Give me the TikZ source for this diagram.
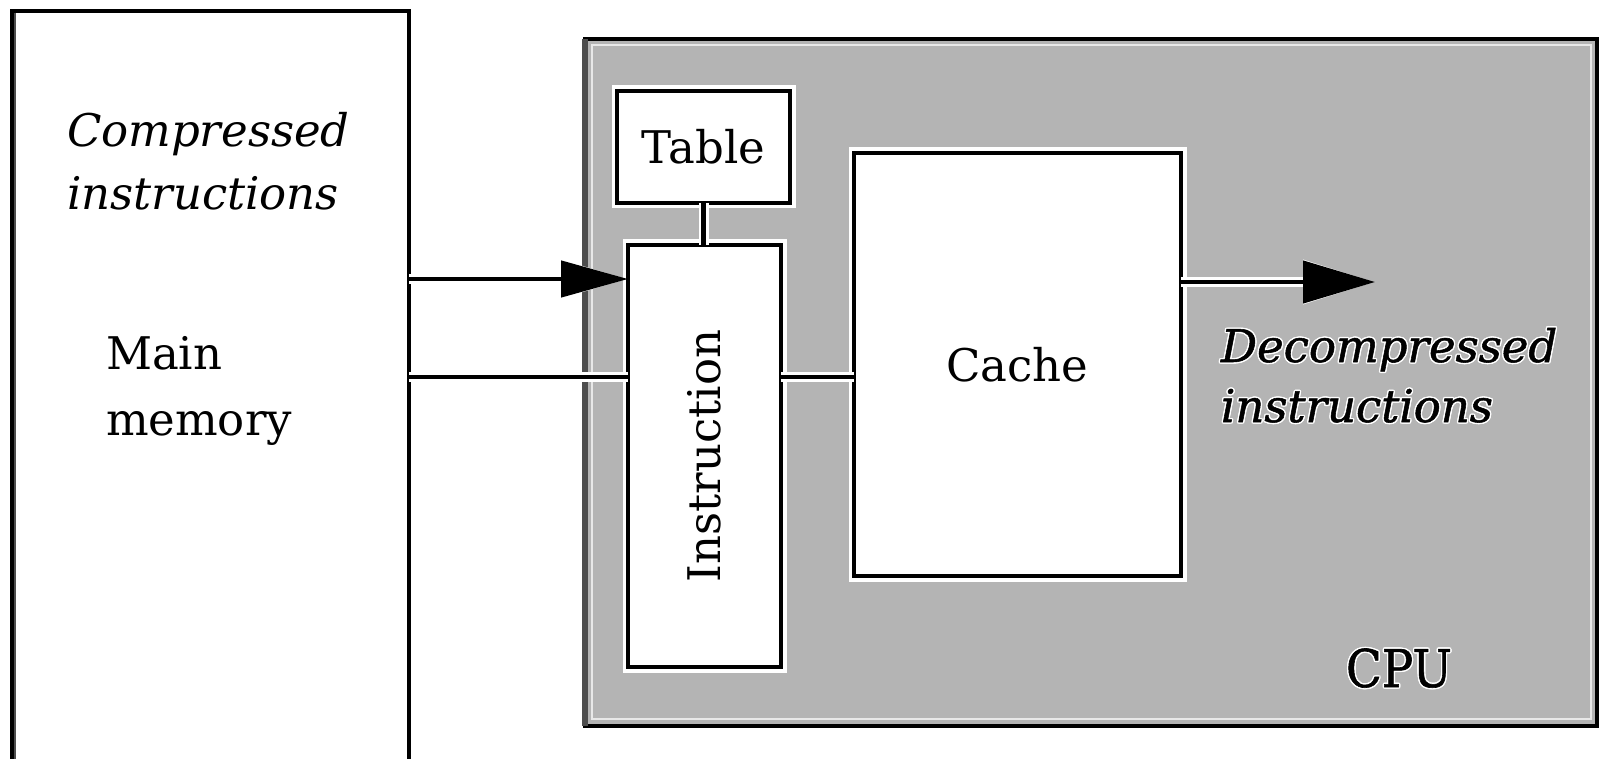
\documentclass[tikz,border=0pt]{standalone}
\usepackage{fontspec}
\setmainfont{DejaVu Serif}
\newfontfamily\heavyital{DejaVu Serif Italic}[FakeBold=1.2]
\newfontfamily\heavyserif{DejaVu Serif}[FakeBold=1.2]
\usetikzlibrary{arrows.meta}
\definecolor{cpugray}{HTML}{B4B4B4}
\definecolor{bevel}{HTML}{4D4D4D}
\definecolor{shine}{HTML}{E8E8E8}

\begin{document}
\begin{tikzpicture}[x=0.5pt,y=-0.5pt,
  every node/.style={inner sep=0pt, outer sep=0pt},
  txt/.style={font=\fontsize{22.5}{30}\selectfont},
  itxt/.style={font=\fontsize{22.5}{30}\selectfont\itshape},
  etxt/.style={font=\fontsize{22.5}{30}\selectfont\heavyital},
  ctxt/.style={font=\fontsize{26}{30}\selectfont\heavyserif},
  unit/.style={draw=black, fill=white, line width=2.4pt,
    preaction={draw=white, line width=5.5pt}, txt},
  wire/.style={line width=2.3pt, preaction={draw=white, line width=5pt}},
  halo/.style={text=white},
]
\clip (0,0) rectangle (1599,759);
\fill[white] (0,0) rectangle (1599,759);

% main memory (runs past the lower edge)
\node[draw=black, line width=2.4pt, minimum width=198.5pt, minimum height=394.5pt]
  (mem) at (210.5,405.5) {};
\draw[bevel, line width=0.7pt] (15,13) -- (15,759);

% CPU block with bevelled edge
\node[draw=black, fill=cpugray, line width=2.4pt, minimum width=506pt, minimum height=343.5pt]
  (cpu) at (1091,382.5) {};
\draw[bevel, line width=2.6pt] (cpu.south west) -- (cpu.north west);
\draw[shine, line width=1pt] ([shift={(7,6)}]cpu.north west) rectangle ([shift={(-6,-7)}]cpu.south east);

% units inside the CPU
\node[unit, minimum width=86.5pt, minimum height=56pt] (table) at (703.5,147) {Table};
\node[unit, rotate=90, minimum width=211pt, minimum height=76.5pt] (instr) at (704.5,456) {Instruction};
\node[unit, minimum width=163.5pt, minimum height=211.5pt] (cache) at (1017.5,364.5) {Cache};

% wiring
\coordinate (rowA) at (0,279);
\coordinate (rowB) at (0,377);
\coordinate (rowC) at (0,282);
\coordinate (out) at (1375,282);

\draw[wire, -{Triangle[length=33.5pt, width=18pt]}] (mem.east |- rowA) -- (instr.north |- rowA);
\draw[wire] (mem.east |- rowB) -- (instr.north |- rowB);
\draw[wire] (instr.south |- rowB) -- (cache.west |- rowB);
\draw[wire] (table.south) -- (table.south |- instr.east);
\draw[wire, -{Triangle[length=36pt, width=21pt]}] (cache.east |- rowC) -- (out);

% labels
\node[itxt, anchor=base west] (cmpA) at (67,147) {Compressed};
\node[itxt, anchor=base west] (cmpB) at (67,210) {instructions};
\node[txt, anchor=base west] (memA) at (106,369) {Main};
\node[txt, anchor=base west] (memB) at (106,435) {memory};

% embossed labels on the CPU surface
\foreach \dx/\dy [count=\k] in {-1.4/0,1.4/0,0/-1.4,0/1.4,-1.1/-1.1,1.1/1.1,-1.1/1.1,1.1/-1.1}{
  \node[etxt, halo, anchor=base west] (decAh\k) at (1221+\dx,362+\dy) {Decompressed};
  \node[etxt, halo, anchor=base west] (decBh\k) at (1221+\dx,422+\dy) {instructions};
  \node[ctxt, halo, anchor=base west] (cpuh\k) at (1346+\dx,687+\dy) {\scalebox{0.9}[1]{CPU}};
}
\node[etxt, anchor=base west] (decA) at (1221,362) {Decompressed};
\node[etxt, anchor=base west] (decB) at (1221,422) {instructions};
\node[ctxt, anchor=base west] (cpulbl) at (1346,687) {\scalebox{0.9}[1]{CPU}};
\end{tikzpicture}
\end{document}
